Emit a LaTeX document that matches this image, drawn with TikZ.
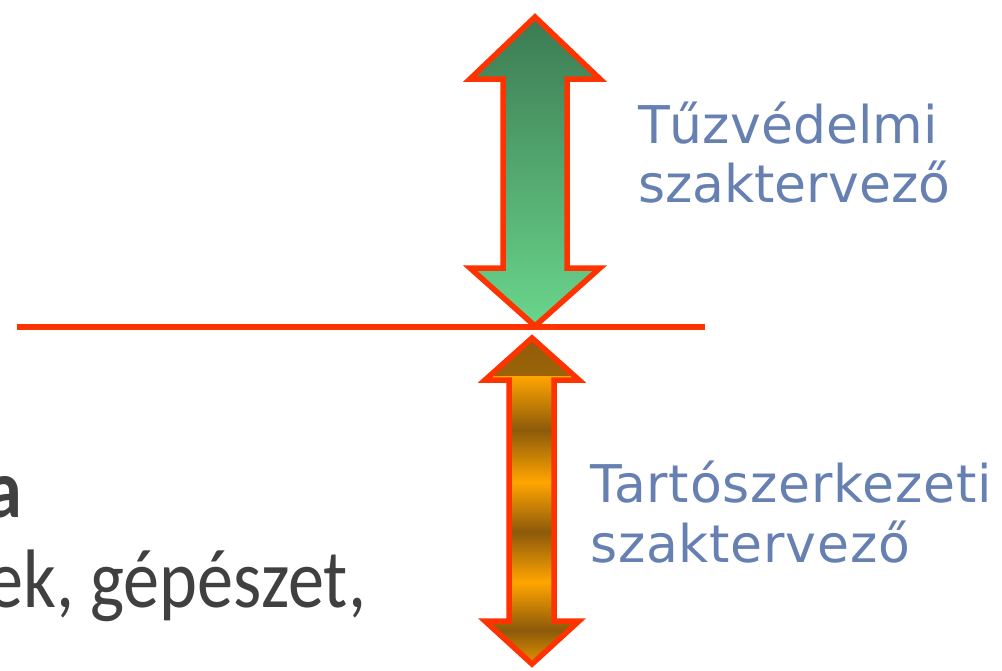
\documentclass[tikz,border=0pt]{standalone}
\usepackage{fontspec}
\setmainfont{Carlito}
\newfontfamily\bluefont{DejaVu Sans}
\definecolor{arrred}{RGB}{255,51,0}
\definecolor{gtop}{RGB}{60,122,82}
\definecolor{gbot}{RGB}{106,214,140}
\definecolor{ora}{RGB}{255,165,0}
\definecolor{brn}{RGB}{140,90,10}
\definecolor{bluetxt}{RGB}{102,128,178}
\definecolor{graytxt}{RGB}{64,64,64}
\tikzset{
  arrowline/.style={draw=arrred, line width=5.5pt, line join=miter},
  redline/.style={draw=arrred, line width=5.5pt},
  bluelabel/.style={font=\bluefont\fontsize{52}{60}\selectfont, text=bluetxt, inner sep=0pt, anchor=base west},
  graylabel/.style={font=\fontsize{83}{100}\selectfont, text=graytxt, inner sep=0pt, anchor=base east},
}
\begin{document}
\begin{tikzpicture}[x=1pt,y=-1pt]
\useasboundingbox (0,0) rectangle (1002,670);
\fill[white] (0,0) rectangle (1002,670);

% horizontal line
\coordinate (lineL) at (17,327);
\coordinate (lineR) at (705,327);
\draw[redline] (lineL) -- (lineR);

% green double arrow
\draw[arrowline, top color=gtop, bottom color=gbot]
  (535,17) -- (600,79) -- (567,79) -- (567,268) -- (600,268) -- (535,326)
  -- (470,268) -- (503,268) -- (503,79) -- (470,79) -- cycle;

% orange double arrow
\draw[arrowline, path picture={
    \shade[top color=brn, bottom color=ora] (470,330) rectangle (600,376);
    \shade[top color=ora, bottom color=brn] (470,376) rectangle (600,430);
    \shade[top color=brn, bottom color=ora] (470,430) rectangle (600,482);
    \shade[top color=ora, bottom color=brn] (470,482) rectangle (600,532);
    \shade[top color=brn, bottom color=ora] (470,532) rectangle (600,582);
    \shade[top color=ora, bottom color=brn] (470,582) rectangle (600,630);
    \shade[top color=brn, bottom color=ora] (470,630) rectangle (600,675);
  }]
  (532,338) -- (579,380) -- (554,380) -- (554,621) -- (579,621) -- (532,664)
  -- (485,621) -- (509,621) -- (509,380) -- (485,380) -- cycle;

% blue labels
\node[bluelabel] (fire1) at (638,143) {Tűzvédelmi};
\node[bluelabel] (fire2) at (638,202) {szaktervező};
\node[bluelabel] (str1) at (590,502) {\addfontfeature{LetterSpace=1.5}Tartószerkezeti};
\node[bluelabel] (str2) at (590,562) {\addfontfeature{LetterSpace=1.5}szaktervező};

% clipped gray text at left
\node[graylabel] (ga) at (22,517) {\scalebox{0.87}[1]{\bfseries a}};
\node[graylabel] (gb) at (366,607) {\scalebox{0.87}[1]{ek, gépészet,}};
\end{tikzpicture}
\end{document}
